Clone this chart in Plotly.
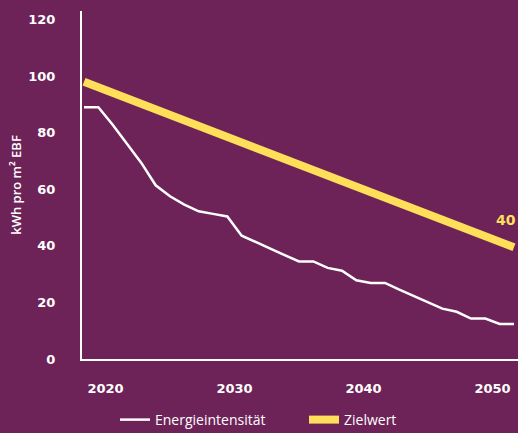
import plotly.graph_objects as go

# data
years = list(range(2020, 2051))
energieintensitaet = [89.0, 89.0, 82.8, 76.1, 69.3, 61.4, 57.5, 54.6, 52.2, 51.3,
                      50.4, 43.6, 41.4, 39.0, 36.7, 34.5, 34.5, 32.2, 31.2, 27.8,
                      26.9, 26.9, 24.5, 22.3, 20.0, 17.8, 16.7, 14.3, 14.3, 12.4, 12.4]
ziel_years = [2020, 2050]
zielwert = [98.0, 39.5]
ziel_label = "40"

x_ticklabels = ["2020", "2030", "2040", "2050"]
x_tickpos = [2021.5, 2030.5, 2039.5, 2048.5]
y_ticks = [0, 20, 40, 60, 80, 100, 120]

bg = "#6D2358"
yellow = "#FFDF5A"
font_family = "Open Sans"
tick_family = "DejaVu Sans"

fig = go.Figure()
fig.add_trace(go.Scatter(
    x=years, y=energieintensitaet, mode="lines", name="Energieintensität",
    line=dict(color="white", width=2.5),
))
fig.add_trace(go.Scatter(
    x=ziel_years, y=zielwert, mode="lines", name="Zielwert",
    line=dict(color=yellow, width=8),
))

fig.add_annotation(
    x=ziel_years[-1], y=zielwert[-1], text=ziel_label, showarrow=False,
    xanchor="right", yanchor="bottom", xshift=4, yshift=17,
    font=dict(family=tick_family, size=14, color=yellow, weight="bold"),
)

fig.update_layout(
    width=518, height=433,
    paper_bgcolor=bg, plot_bgcolor=bg,
    margin=dict(l=82, r=0, t=11, b=74),
    font=dict(family=font_family, color="white", size=14),
    showlegend=True,
    legend=dict(
        orientation="h", xref="container", x=0.222, xanchor="left",
        yref="container", y=0.03, yanchor="middle",
        font=dict(size=14, color="white"),
        itemwidth=30, bgcolor="rgba(0,0,0,0)",
        entrywidth=144, entrywidthmode="pixels",
    ),
)
fig.update_xaxes(
    range=[2019.86, 2050.28], showgrid=False, zeroline=False,
    showline=True, linecolor="white", linewidth=2,
    tickvals=x_tickpos, ticktext=x_ticklabels, ticks="",
    ticklabelstandoff=16,
    tickfont=dict(family=tick_family, size=13, weight="bold"),
)
fig.update_yaxes(
    range=[0, 123], showgrid=False, zeroline=False,
    showline=True, linecolor="white", linewidth=2,
    tickvals=y_ticks, ticks="", ticklabelstandoff=22,
    tickfont=dict(family=tick_family, size=13, weight="bold"),
    title=dict(text="kWh pro m² EBF", font=dict(size=13, weight=600), standoff=4),
)

fig.write_html("out.html", config={"displayModeBar": False},
               post_script="document.body.style.margin='0';")
